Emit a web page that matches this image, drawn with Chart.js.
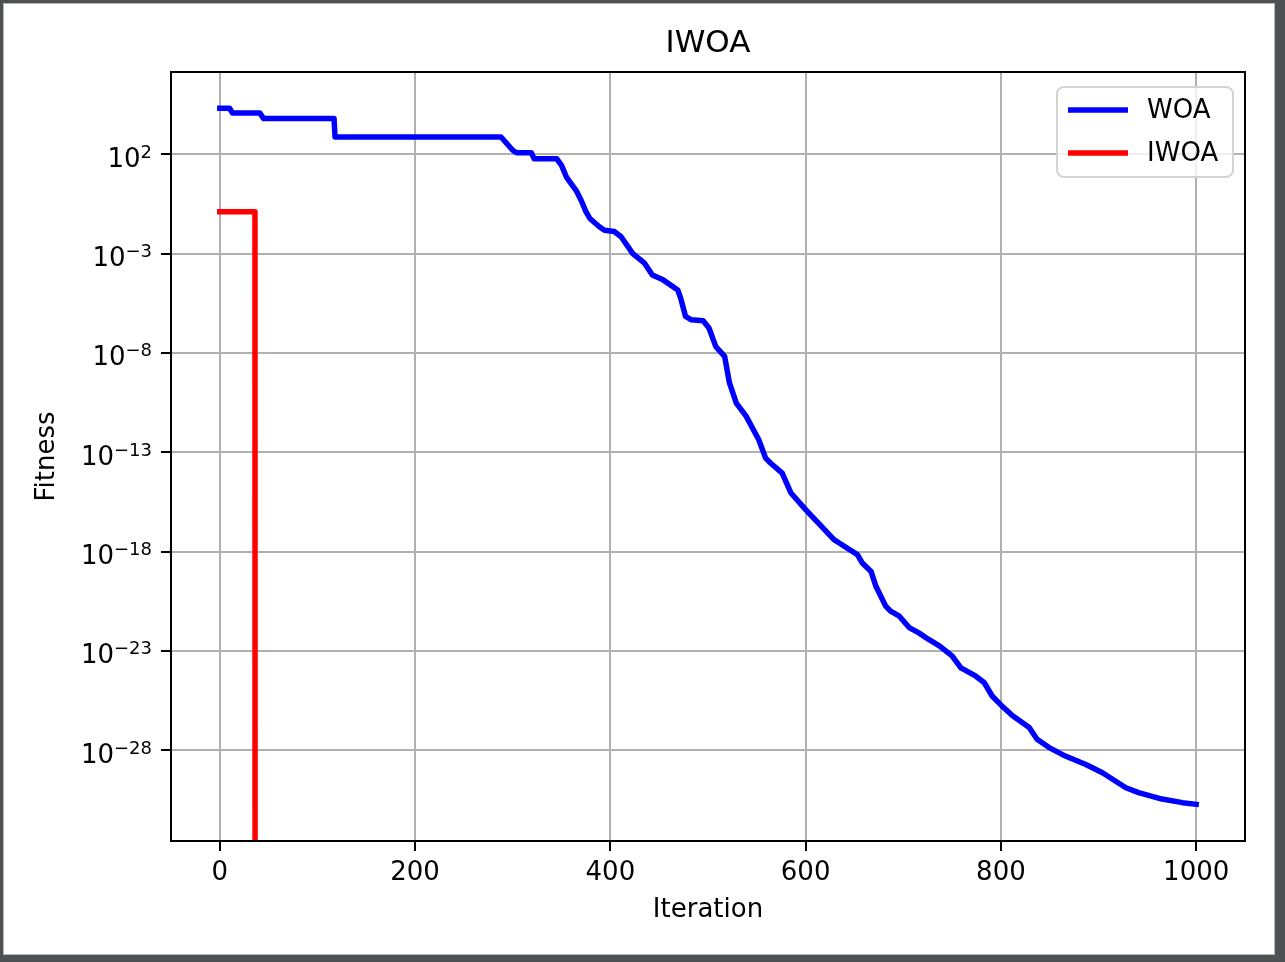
<!DOCTYPE html>
<html lang="en">
<head>
<meta charset="utf-8">
<title>IWOA</title>
<script src="https://cdn.jsdelivr.net/npm/chart.js@4.4.1/dist/chart.umd.min.js"></script>
<style>
  html, body { margin: 0; padding: 0; background: #4e5154; overflow: hidden; }
  #frame { position: absolute; left: 3px; top: 3px; width: 1270px; height: 950px; background: #fff; border: 1px solid #b8b8b8; }
  #fitness-chart { position: absolute; left: 0; top: 0; }
</style>
</head>
<body>
<div id="frame"></div>
<canvas id="fitness-chart" width="1285" height="962"></canvas>
<script>
/**
 * Convergence curves, WOA vs IWOA (log fitness)
 */

// WOA best-so-far fitness
const woaIterations = [0, 10, 13, 41, 45, 117, 118, 288, 300, 304, 319, 322, 345, 350, 355, 365, 370, 375,
  379, 389, 394, 404, 411, 423, 435, 443, 454, 469, 472, 477, 483, 495, 501, 508, 517, 522, 529, 539,
  552, 559, 564, 576, 585, 600, 616, 629, 634, 653, 658, 667, 672, 682, 687, 696, 706, 716, 726, 737,
  750, 759, 774, 783, 791, 801, 812, 829, 837, 849, 866, 887, 904, 928, 941, 965, 986, 1000];
const woaFitness = [2.1e4, 2.1e4, 1.2e4, 1.2e4, 6.3e3, 6.3e3, 7.5e2, 7.5e2, 1.6e2, 1.2e2, 1.2e2, 60, 60, 28, 7.2, 1.5, 0.49, 0.13,
  5.9e-2, 2.2e-2, 1.5e-2, 1.3e-2, 7.1e-3, 1.0e-3, 3.3e-4, 8.5e-5, 4.8e-5, 1.5e-5, 5.8e-6, 6.9e-7, 4.7e-7, 4.2e-7, 1.8e-7, 2.1e-8, 6.8e-9, 3.1e-10, 3.0e-11, 6.6e-12,
  4.3e-13, 5.1e-14, 2.9e-14, 8.9e-15, 8.9e-16, 1.3e-16, 1.9e-17, 4.0e-18, 2.8e-18, 7.1e-19, 2.7e-19, 1.0e-19, 1.8e-20, 1.8e-21, 1.0e-21, 5.6e-22, 1.5e-22, 8.1e-23, 3.8e-23, 1.8e-23,
  5.6e-24, 1.4e-24, 5.5e-25, 2.5e-25, 5.4e-26, 1.7e-26, 5.4e-27, 1.4e-27, 3.6e-28, 1.4e-28, 5.1e-29, 1.9e-29, 7.4e-30, 1.3e-30, 7.4e-31, 3.5e-31, 2.3e-31, 1.9e-31];

// IWOA drops out of the axis range after iteration 36
const iwoaIterations = [0, 36, 37, 1000];
const iwoaFitness = [0.13, 0.13, 1e-300, 1e-300];

// Axis ticks
const xTickValues = [0, 200, 400, 600, 800, 1000];
const yTickValues = [1e-28, 1e-23, 1e-18, 1e-13, 1e-8, 1e-3, 1e2];
const yTickBase = '10';
const yTickExponents = ['\u221228', '\u221223', '\u221218', '\u221213', '\u22128', '\u22123', '2'];

const FONT = "'DejaVu Sans', sans-serif";
Chart.defaults.font.family = FONT;
Chart.defaults.color = '#000';

function toPoints(xs, ys) {
  return xs.map((x, i) => ({ x: x, y: ys[i] }));
}

/**
 * Black box round the plot area (matplotlib spines)
 */
const spinesPlugin = {
  id: 'spines',
  afterDatasetsDraw(chart) {
    const { ctx, chartArea: a } = chart;
    ctx.save();
    ctx.strokeStyle = '#000';
    ctx.lineWidth = 2;
    ctx.strokeRect(a.left, a.top, a.right - a.left, a.bottom - a.top);
    ctx.restore();
  }
};

/**
 * Y tick labels written as 10 with a raised exponent
 */
const powerLabelsPlugin = {
  id: 'powerLabels',
  afterDraw(chart) {
    const { ctx, chartArea: a } = chart;
    const yScale = chart.scales.y;
    const right = a.left - 10 - 9;
    ctx.save();
    ctx.fillStyle = '#000';
    ctx.textAlign = 'left';
    ctx.textBaseline = 'alphabetic';
    yTickValues.forEach((v, i) => {
      const py = yScale.getPixelForValue(v);
      ctx.font = '26px ' + FONT;
      const wBase = ctx.measureText(yTickBase).width;
      ctx.font = '18px ' + FONT;
      const wExp = ctx.measureText(yTickExponents[i]).width;
      const x0 = right - wExp - wBase;
      ctx.font = '26px ' + FONT;
      ctx.fillText(yTickBase, x0, py + 12.5);
      ctx.font = '18px ' + FONT;
      ctx.fillText(yTickExponents[i], x0 + wBase, py + 3.5);
    });
    ctx.restore();
  }
};

/**
 * Legend box in the upper right corner of the plot
 */
const boxLegendPlugin = {
  id: 'boxLegend',
  afterDraw(chart) {
    const { ctx, chartArea: a } = chart;
    const w = 176, h = 90;
    const x = a.right - 12 - w;
    const y = a.top + 15;
    ctx.save();
    ctx.beginPath();
    ctx.roundRect(x, y, w, h, 7);
    ctx.fillStyle = 'rgba(255, 255, 255, 0.8)';
    ctx.fill();
    ctx.strokeStyle = '#d3d3d3';
    ctx.lineWidth = 2;
    ctx.stroke();

    ctx.font = '26px ' + FONT;
    ctx.textBaseline = 'middle';
    ctx.textAlign = 'left';
    chart.data.datasets.forEach((ds, i) => {
      const ly = y + 23 + i * 43;
      ctx.beginPath();
      ctx.moveTo(x + 11, ly);
      ctx.lineTo(x + 71, ly);
      ctx.strokeStyle = ds.borderColor;
      ctx.lineWidth = 5.5;
      ctx.lineCap = 'butt';
      ctx.stroke();
      ctx.fillStyle = '#000';
      ctx.fillText(ds.label, x + 90, ly + 1);
    });
    ctx.restore();
  }
};

const gridOpts = {
  color: '#b0b0b0',
  lineWidth: 2,
  drawTicks: true,
  tickLength: 10,
  tickWidth: 2,
  tickColor: '#000'
};

const config = {
  type: 'line',
  data: {
    datasets: [{
      label: 'WOA',
      data: toPoints(woaIterations, woaFitness),
      borderColor: '#0000ff',
      borderWidth: 5.5,
      borderJoinStyle: 'round',
      borderCapStyle: 'square',
      pointRadius: 0,
      tension: 0,
      fill: false
    }, {
      label: 'IWOA',
      data: toPoints(iwoaIterations, iwoaFitness),
      borderColor: '#ff0000',
      borderWidth: 5.5,
      borderJoinStyle: 'round',
      borderCapStyle: 'square',
      pointRadius: 0,
      tension: 0,
      fill: false
    }]
  },
  options: {
    responsive: false,
    animation: false,
    events: [],
    layout: { padding: { left: 0, right: 40, top: 0, bottom: 0 } },
    scales: {
      x: {
        type: 'linear',
        min: -50,
        max: 1050,
        bounds: 'data',
        afterBuildTicks: (scale) => { scale.ticks = xTickValues.map(v => ({ value: v })); },
        afterFit: (scale) => { scale.height = 121; },
        grid: gridOpts,
        border: { display: false },
        ticks: {
          autoSkip: false,
          maxRotation: 0,
          padding: 7,
          font: { size: 26 },
          callback: (value) => String(value)
        },
        title: {
          display: true,
          text: 'Iteration',
          font: { size: 26 },
          padding: { top: 0, bottom: 36 }
        }
      },
      y: {
        type: 'logarithmic',
        min: 2.7e-33,
        max: 1.4e6,
        bounds: 'data',
        afterBuildTicks: (scale) => { scale.ticks = yTickValues.map(v => ({ value: v })); },
        afterFit: (scale) => { scale.width = 171; },
        grid: gridOpts,
        border: { display: false },
        ticks: { display: false },
        title: {
          display: true,
          text: 'Fitness',
          font: { size: 26 },
          padding: { top: 32, bottom: 0 }
        }
      }
    },
    plugins: {
      legend: { display: false },
      tooltip: { enabled: false },
      title: {
        display: true,
        text: 'IWOA',
        fullSize: false,
        color: '#000',
        font: { size: 31, weight: 'normal' },
        padding: { top: 25, bottom: 9.8 }
      }
    }
  },
  plugins: [spinesPlugin, powerLabelsPlugin, boxLegendPlugin]
};

new Chart(document.getElementById('fitness-chart').getContext('2d'), config);
</script>
</body>
</html>
